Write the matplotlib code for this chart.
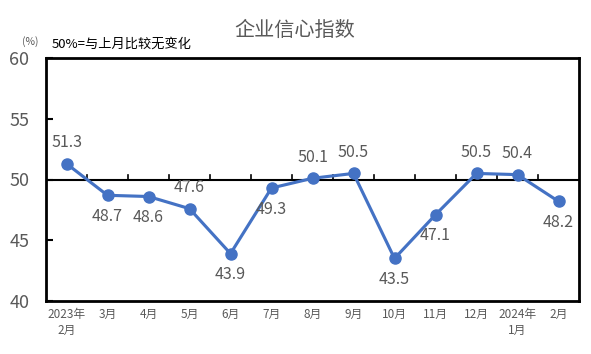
import matplotlib
matplotlib.use("Agg")
import matplotlib.pyplot as plt

plt.rcParams['font.family'] = ['Noto Sans CJK SC', 'DejaVu Sans']

categories = ["2023年\n2月", "3月", "4月", "5月", "6月", "7月", "8月", "9月",
              "10月", "11月", "12月", "2024年\n1月", "2月"]
values = [51.3, 48.7, 48.6, 47.6, 43.9, 49.3, 50.1, 50.5, 43.5, 47.1, 50.5, 50.4, 48.2]
label_above = [True, False, False, True, False, False, True, True, False, False, True, True, False]
yticks = [40, 45, 50, 55, 60]

grey = "#595959"
blue = "#4472C4"

fig = plt.figure(figsize=(5.91, 3.54), dpi=100)
ax = fig.add_axes([46/591, 1-301/354, 533/591, 243/354])

x = list(range(len(values)))
ax.plot(x, values, color=blue, lw=2.25, marker='o', ms=8, zorder=3)
for xi, v, up in zip(x, values, label_above):
    ax.annotate(f"{v}", (xi, v), xytext=(0, 9 if up else -9), textcoords='offset points',
                ha='center', va='bottom' if up else 'top', fontsize=11.5, color=grey)

ax.set_xlim(-0.5, len(values)-0.5)
ax.set_ylim(40, 60)
ax.set_yticks(yticks)
ax.set_yticklabels([str(t) for t in yticks], fontsize=13, color=grey)
ax.tick_params(axis='y', direction='in', length=5, width=1.5, pad=12)

ax.set_xticks(x)
ax.set_xticklabels(categories, fontsize=8.5, color=grey, linespacing=1.3)
ax.tick_params(axis='x', length=0, pad=5)

for s in ax.spines.values():
    s.set_linewidth(2)
    s.set_color('black')

ax.axhline(50, color='black', lw=1.5, zorder=2)
for b in range(1, len(values)):
    ax.plot([b-0.5, b-0.5], [50, 50.4], color='black', lw=1.2, zorder=2)

fig.text(295/591, 1-30/354, "企业信心指数", ha='center', va='center', fontsize=14.5, color=grey)
fig.text(52/591, 1-44/354, "50%=与上月比较无变化", ha='left', va='center', fontsize=9.5, color='black')
fig.text(22/591, 1-42/354, "(%)", ha='left', va='center', fontsize=7.5, color=grey)

fig.savefig("out.png", dpi=100)
